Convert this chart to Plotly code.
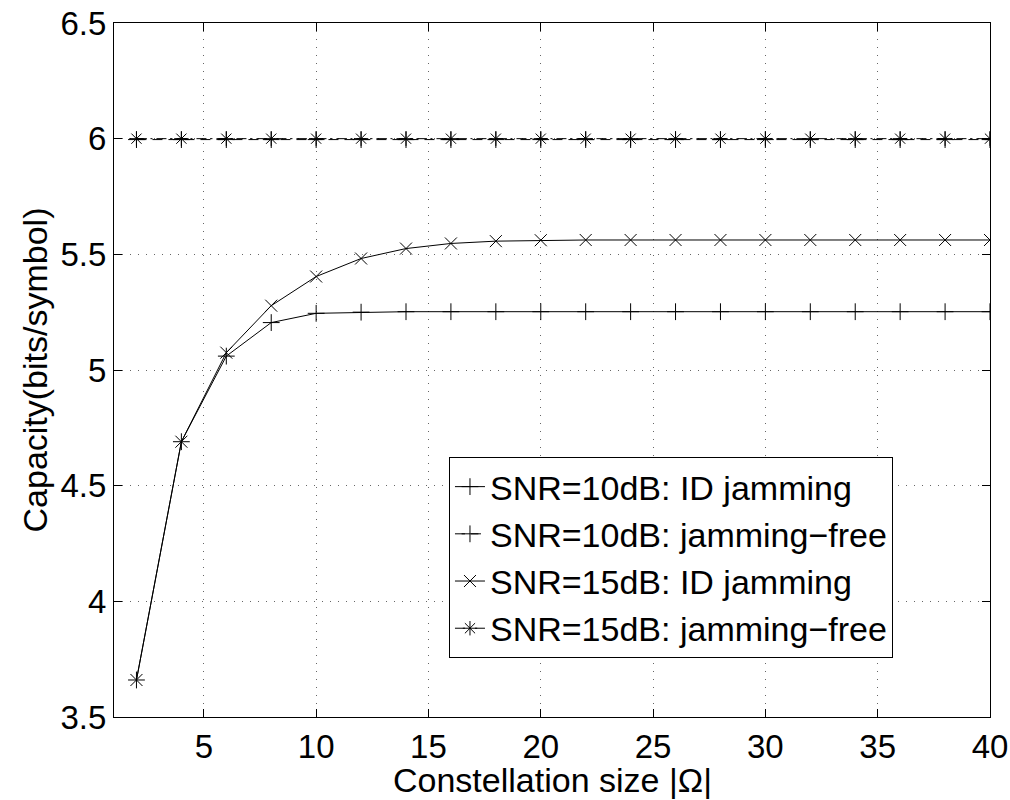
import plotly.graph_objects as go

# Data
x_size = [2, 4, 6, 8, 10, 12, 14, 16, 18, 20, 22, 24, 26, 28, 30, 32, 34, 36, 38, 40]
snr10_id = [3.66, 4.69, 5.06, 5.205, 5.245, 5.25, 5.252, 5.252, 5.252, 5.252,
            5.252, 5.252, 5.252, 5.252, 5.252, 5.252, 5.252, 5.252, 5.252, 5.252]
snr10_free = [5.996] * 20
snr15_id = [3.66, 4.69, 5.075, 5.278, 5.404, 5.482, 5.525, 5.547, 5.557, 5.561,
            5.562, 5.562, 5.562, 5.562, 5.562, 5.562, 5.562, 5.562, 5.562, 5.562]
snr15_free = [6.0] * 20
x_ticks = [5, 10, 15, 20, 25, 30, 35, 40]
y_ticks = [3.5, 4, 4.5, 5, 5.5, 6, 6.5]
y_ticktext = ["3.5", "4", "4.5", "5", "5.5", "6", "6.5"]

names = ["SNR=10dB: ID jamming", "SNR=10dB: jamming\u2212free",
         "SNR=15dB: ID jamming", "SNR=15dB: jamming\u2212free"]
series = [snr10_id, snr10_free, snr15_id, snr15_free]
dashes = ["solid", "10px,6px", "solid", "10px,4px,2px,4px"]
symbols = ["cross-thin-open", "cross-thin-open", "x-thin-open", "asterisk-open"]

FONT = "Liberation Sans, Arial, sans-serif"
FS = 34
TFS = 33

fig = go.Figure()
for i, (nm, ys, d, s) in enumerate(zip(names, series, dashes, symbols)):
    fig.add_trace(go.Scatter(
        x=x_size, y=ys, name=nm, mode="lines+markers",
        line=dict(color="black", width=1, dash=d),
        marker=dict(symbol=s, size=12, color="black", line=dict(color="black", width=1)),
    ))

axis_common = dict(
    showline=True, linecolor="black", linewidth=1, mirror="ticks",
    ticks="inside", ticklen=8, tickcolor="black", tickwidth=1,
    showgrid=True, gridcolor="#666", griddash="1px,7px", gridwidth=1,
    zeroline=False, tickfont=dict(family=FONT, size=TFS, color="black"),
)

fig.update_xaxes(range=[1, 40], tickvals=x_ticks, **axis_common)
fig.update_yaxes(range=[3.5, 6.5], tickvals=y_ticks, ticktext=y_ticktext,
                 title=dict(text="Capacity(bits/symbol)", font=dict(family=FONT, size=FS, color="black"), standoff=2),
                 **axis_common)

fig.add_annotation(text="Constellation size |\u03a9|", xref="paper", yref="paper",
                   x=0.5, y=-0.1195, xanchor="center", yanchor="bottom", showarrow=False,
                   borderpad=0,
                   font=dict(family=FONT, size=FS, color="black"))

fig.update_layout(
    width=1010, height=800,
    margin=dict(l=114, r=20, t=23, b=83, autoexpand=False),
    plot_bgcolor="white", paper_bgcolor="white",
    font=dict(family=FONT, size=FS, color="black"),
    legend=dict(x=0.3824, y=0.3746, xanchor="left", yanchor="top",
                bgcolor="white", bordercolor="black", borderwidth=1,
                font=dict(family=FONT, size=FS, color="black"),
                tracegroupgap=0),
    showlegend=True,
)

fig.write_html("out.html")
